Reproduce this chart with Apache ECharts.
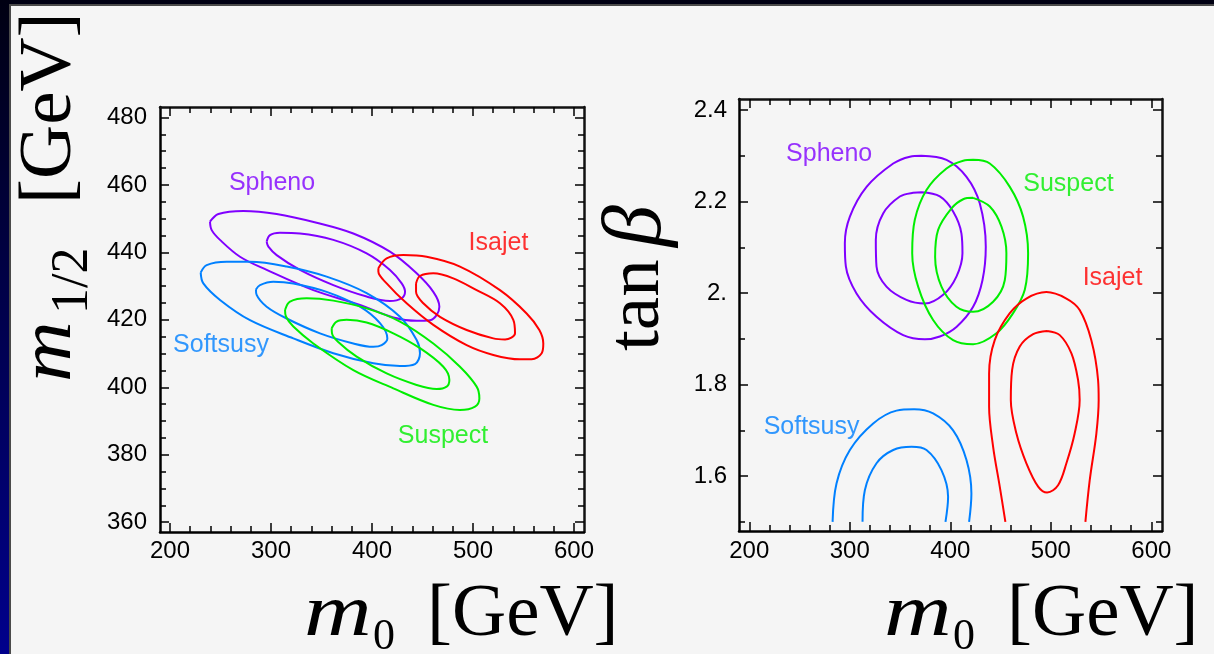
<!DOCTYPE html>
<html>
<head>
<meta charset="utf-8">
<style>
html,body{margin:0;padding:0;background:#000040;}
#chart{width:1214px;height:654px;}
</style>
<script src="https://cdn.jsdelivr.net/npm/echarts@6/dist/echarts.min.js"></script>
</head>
<body>
<div id="chart"></div>
<script>
// ---------- tick values / labels ----------
const xMajor = [200, 300, 400, 500, 600];
const xMinor = [220, 240, 260, 280, 320, 340, 360, 380, 420, 440, 460, 480, 520, 540, 560, 580];
const yMajorL = [360, 380, 400, 420, 440, 460, 480];
const yMinorL = [365, 370, 375, 385, 390, 395, 405, 410, 415, 425, 430, 435, 445, 450, 455, 465, 470, 475];
const yMajorR = [1.6, 1.8, 2.0, 2.2, 2.4];
const yLabelsR = ['1.6', '1.8', '2.', '2.2', '2.4'];
const yMinorR = [1.5, 1.7, 1.9, 2.1, 2.3];

// ---------- left panel: m0 vs m1/2 contours ----------
const sphenoOuterL = [[239.6,449.1],[247.9,451.4],[272.6,452.3],[305.6,451.4],[345.2,448.8],[381.5,445.6],[417.8,440.2],[444.2,433.8],[460.7,428.3],[466.7,423.9],[464.0,421.4],[457.4,419.9],[444.2,419.7],[421.1,420.7],[388.1,424.4],[341.9,428.8],[295.7,434.8],[269.3,438.7],[249.5,443.7],[241.3,446.6],[239.6,449.1]];
const sphenoInnerL = [[295.7,443.2],[299.0,445.1],[308.9,445.8],[328.7,445.6],[361.7,443.7],[394.7,439.7],[417.8,434.8],[429.4,430.8],[432.7,428.3],[429.4,426.4],[417.8,425.6],[394.7,426.9],[361.7,430.3],[328.7,434.8],[305.6,439.2],[297.4,441.7],[295.7,443.2]];
const isajetOuterL = [[406.3,435.3],[414.5,438.2],[431.0,439.2],[454.1,438.7],[487.1,435.8],[526.7,428.8],[553.1,421.9],[565.7,417.0],[569.6,413.0],[568.0,410.1],[558.1,408.3],[546.5,408.3],[520.1,409.6],[493.7,412.5],[460.7,418.5],[434.3,424.9],[414.5,430.8],[406.3,434.3],[406.3,435.3]];
const isajetInnerL = [[443.6,430.8],[447.5,433.0],[460.7,433.8],[480.5,432.3],[503.6,428.8],[526.7,424.9],[539.9,420.0],[541.6,416.0],[531.7,414.2],[520.1,414.5],[493.7,417.0],[467.3,420.9],[450.8,424.9],[443.6,428.3],[443.6,430.8]];
const softsusyOuterL = [[230.4,434.0],[236.3,436.2],[256.1,437.2],[279.2,437.2],[315.5,435.8],[355.1,432.8],[394.7,427.9],[427.7,420.9],[444.2,414.0],[447.5,410.1],[442.6,406.9],[427.7,406.3],[401.3,407.1],[361.7,410.1],[322.1,414.5],[279.2,419.9],[249.5,425.9],[233.0,430.8],[230.4,434.0]];
const softsusyInnerL = [[285.1,429.0],[289.1,430.3],[302.3,431.3],[322.1,430.8],[355.1,428.3],[388.1,423.9],[407.9,419.0],[415.2,414.5],[409.6,412.5],[401.3,412.0],[381.5,413.0],[348.5,416.0],[315.5,420.4],[295.7,423.9],[285.8,427.4],[285.1,429.0]];
const suspectOuterL = [[313.9,422.9],[318.8,425.4],[335.3,426.4],[361.7,425.7],[394.7,423.4],[427.7,419.5],[460.7,413.0],[487.1,406.1],[503.6,400.2],[506.3,396.7],[502.0,394.3],[487.1,393.3],[460.7,394.8],[421.1,399.7],[381.5,405.1],[341.9,413.0],[322.1,418.0],[314.9,420.9],[313.9,422.9]];
const suspectInnerL = [[360.1,417.5],[365.0,419.5],[374.9,420.0],[394.7,419.2],[421.1,416.0],[447.5,411.6],[470.6,406.1],[476.6,402.2],[473.9,400.2],[464.0,399.5],[444.2,400.7],[414.5,404.1],[384.8,409.1],[366.3,413.5],[360.4,416.0],[360.1,417.5]];

// ---------- right panel: m0 vs tan(beta) contours ----------
const sphenoOuterR = [[371.3,2.300],[396.2,2.291],[416.1,2.254],[429.3,2.196],[435.3,2.101],[432.0,2.028],[422.7,1.970],[406.1,1.926],[389.6,1.905],[374.7,1.899],[353.1,1.908],[326.6,1.948],[306.7,1.999],[296.1,2.058],[295.1,2.109],[300.1,2.167],[316.7,2.232],[343.2,2.283],[359.8,2.298],[371.3,2.300]];
const sphenoInnerR = [[371.3,2.220],[389.6,2.211],[402.8,2.178],[411.1,2.130],[412.1,2.087],[406.1,2.036],[392.9,1.996],[374.7,1.977],[356.4,1.985],[336.5,2.014],[326.6,2.058],[325.9,2.116],[333.2,2.174],[349.8,2.211],[363.0,2.219],[371.3,2.220]];
const suspectOuterR = [[422.7,2.291],[439.3,2.283],[459.2,2.232],[472.4,2.167],[477.4,2.087],[474.1,2.007],[462.5,1.956],[445.9,1.912],[422.7,1.888],[402.8,1.897],[382.9,1.941],[368.0,2.014],[362.1,2.087],[364.7,2.160],[376.3,2.225],[396.2,2.272],[412.8,2.289],[422.7,2.291]];
const suspectInnerR = [[422.7,2.208],[439.3,2.189],[450.9,2.145],[455.8,2.087],[454.2,2.028],[442.6,1.981],[422.7,1.959],[406.1,1.970],[391.2,2.014],[384.9,2.079],[387.9,2.138],[401.2,2.185],[412.8,2.205],[422.7,2.208]];
const isajetOuterR = [[454.8,1.500],[449.2,1.577],[442.6,1.664],[438.6,1.752],[438.6,1.824],[444.2,1.897],[459.2,1.956],[475.7,1.988],[495.6,2.002],[515.5,1.988],[528.7,1.963],[540.3,1.897],[547.0,1.810],[547.6,1.766],[545.3,1.693],[538.7,1.591],[534.4,1.500]];
const isajetInnerR = [[496.3,1.917],[508.9,1.908],[520.5,1.868],[527.1,1.810],[528.7,1.766],[523.7,1.693],[515.5,1.628],[507.2,1.580],[496.3,1.564],[487.4,1.577],[475.7,1.628],[465.8,1.693],[460.2,1.766],[461.5,1.832],[469.1,1.883],[482.4,1.910],[496.3,1.917]];
const softsusyOuterR = [[282.9,1.500],[286.8,1.584],[300.1,1.657],[323.3,1.715],[346.5,1.743],[364.0,1.746],[382.9,1.737],[402.8,1.700],[416.1,1.635],[421.0,1.562],[418.7,1.500]];
const softsusyInnerR = [[312.7,1.500],[315.0,1.569],[326.6,1.628],[343.2,1.657],[361.5,1.664],[376.3,1.657],[391.2,1.613],[397.8,1.555],[395.2,1.500]];

// ---------- series labels ----------
const labelNames = ['Spheno', 'Isajet', 'Softsusy', 'Suspect'];
const labelPosL = [[301.0,460.5],[525.2,442.8],[250.5,412.5],[470.3,385.6]];
const labelPosR = [[279.5,2.303],[561.4,2.033],[262.0,1.706],[517.5,2.238]];

const COLORS = { Spheno: '#8000ff', Isajet: '#ff0000', Softsusy: '#0080ff', Suspect: '#00ee00' };

// ---------- option construction ----------
const tickFont = 'Liberation Sans, Arial, sans-serif';
const serif = 'Liberation Serif, Times New Roman, serif';

function makeAxes(g, dim, min, max, major, minor, fmt, margin) {
  const isX = dim === 'x';
  const posA = isX ? 'bottom' : 'left';
  const posB = isX ? 'top' : 'right';
  const base = { gridIndex: g, type: 'value', min: min, max: max, splitLine: { show: false }, scale: true };
  const tickStyle = { color: '#000', width: 1.5 };
  return [
    Object.assign({}, base, {
      position: posA,
      axisLine: { show: true, onZero: false, lineStyle: { color: '#000', width: 2.5 } },
      axisTick: { show: true, inside: true, length: 9, customValues: major, lineStyle: tickStyle },
      axisLabel: { show: true, customValues: major, formatter: fmt, margin: margin, color: '#000',
                   fontSize: 24, fontFamily: tickFont }
    }),
    Object.assign({}, base, {
      position: posA,
      axisLine: { show: false, onZero: false },
      axisTick: { show: true, inside: true, length: 6, customValues: minor, lineStyle: tickStyle },
      axisLabel: { show: false }
    }),
    Object.assign({}, base, {
      position: posB,
      axisLine: { show: true, onZero: false, lineStyle: { color: '#111', width: 2.5 } },
      axisTick: { show: true, inside: true, length: 9, customValues: major, lineStyle: tickStyle },
      axisLabel: { show: false }
    }),
    Object.assign({}, base, {
      position: posB,
      axisLine: { show: false, onZero: false },
      axisTick: { show: true, inside: true, length: 6, customValues: minor, lineStyle: tickStyle },
      axisLabel: { show: false }
    })
  ];
}

const xAxes = [].concat(
  makeAxes(0, 'x', 190.1, 609.9, xMajor, xMinor, v => String(v), 7),
  makeAxes(1, 'x', 189.8, 610.6, xMajor, xMinor, v => String(v), 8)
);
const yAxes = [].concat(
  makeAxes(0, 'y', 357.1, 483.1, yMajorL, yMinorL, v => String(v), 13),
  makeAxes(1, 'y', 1.48, 2.424, yMajorR, yMinorR, v => {
    const i = yMajorR.findIndex(t => Math.abs(t - v) < 1e-6);
    return i >= 0 ? yLabelsR[i] : '';
  }, 12)
);

function contour(data, name, axisIdx) {
  return {
    type: 'line', name: name, data: data, xAxisIndex: axisIdx, yAxisIndex: axisIdx,
    showSymbol: false, symbol: 'none', smooth: 0.35, silent: true,
    lineStyle: { color: COLORS[name], width: 2 }, z: 3
  };
}

function labelSeries(pos, axisIdx) {
  return {
    type: 'scatter', xAxisIndex: axisIdx, yAxisIndex: axisIdx, symbolSize: 1, silent: true,
    itemStyle: { color: 'rgba(0,0,0,0)' },
    data: pos.map((p, i) => ({
      value: p, name: labelNames[i],
      label: { color: COLORS[labelNames[i]] }
    })),
    label: { show: true, position: 'inside', formatter: '{b}', fontSize: 25, fontFamily: tickFont },
    z: 5
  };
}

const series = [
  contour(sphenoOuterL, 'Spheno', 0), contour(sphenoInnerL, 'Spheno', 0),
  contour(isajetOuterL, 'Isajet', 0), contour(isajetInnerL, 'Isajet', 0),
  contour(softsusyOuterL, 'Softsusy', 0), contour(softsusyInnerL, 'Softsusy', 0),
  contour(suspectOuterL, 'Suspect', 0), contour(suspectInnerL, 'Suspect', 0),
  contour(sphenoOuterR, 'Spheno', 4), contour(sphenoInnerR, 'Spheno', 4),
  contour(suspectOuterR, 'Suspect', 4), contour(suspectInnerR, 'Suspect', 4),
  contour(isajetOuterR, 'Isajet', 4), contour(isajetInnerR, 'Isajet', 4),
  contour(softsusyOuterR, 'Softsusy', 4), contour(softsusyInnerR, 'Softsusy', 4),
  labelSeries(labelPosL, 0), labelSeries(labelPosR, 4)
];

function txt(x, y, text, font, rot, sx) {
  return {
    type: 'text', x: x, y: y, rotation: rot || 0, scaleX: sx || 1, z: 100, silent: true,
    style: { text: text, font: font, fill: '#000', textAlign: 'left', textVerticalAlign: 'middle', verticalAlign: 'middle' }
  };
}

const R = Math.PI / 2;
const graphic = [
  { type: 'rect', z: -100, silent: true, shape: { x: 10, y: 5, width: 1220, height: 660 },
    style: { fill: '#f5f5f5', stroke: '#4a4a4a', lineWidth: 2 } },
  // bottom-left x title
  txt(304, 615, 'm', 'italic 75px ' + serif, 0, 1.25),
  txt(373, 637, '0', '44px ' + serif),
  txt(427, 615, '[GeV]', '75px ' + serif),
  // bottom-right x title
  txt(884, 615, 'm', 'italic 75px ' + serif, 0, 1.25),
  txt(953, 637, '0', '44px ' + serif),
  txt(1007, 615, '[GeV]', '75px ' + serif),
  // left y title (rotated)
  txt(50, 382, 'm', 'italic 75px ' + serif, R, 1.12),
  txt(73, 314, '1/2', '52px ' + serif, R),
  txt(50, 204, '[GeV]', '75px ' + serif, R),
  // right y title (rotated)
  txt(638, 351, 'tan', '75px ' + serif, R),
  txt(638, 247, 'β', 'italic 84px ' + serif, R)
];

const option = {
  animation: false,
  backgroundColor: { type: 'linear', x: 0, y: 0, x2: 0, y2: 1,
    colorStops: [{ offset: 0, color: '#000012' }, { offset: 1, color: '#00008c' }] },
  grid: [
    { left: 160, top: 107, width: 424, height: 425, containLabel: false, outerBoundsMode: 'none' },
    { left: 739, top: 99, width: 423, height: 432, containLabel: false, outerBoundsMode: 'none' }
  ],
  xAxis: xAxes,
  yAxis: yAxes,
  series: series,
  graphic: graphic
};

const chart = echarts.init(document.getElementById('chart'), null, { renderer: 'canvas' });
chart.setOption(option);
</script>
</body>
</html>
